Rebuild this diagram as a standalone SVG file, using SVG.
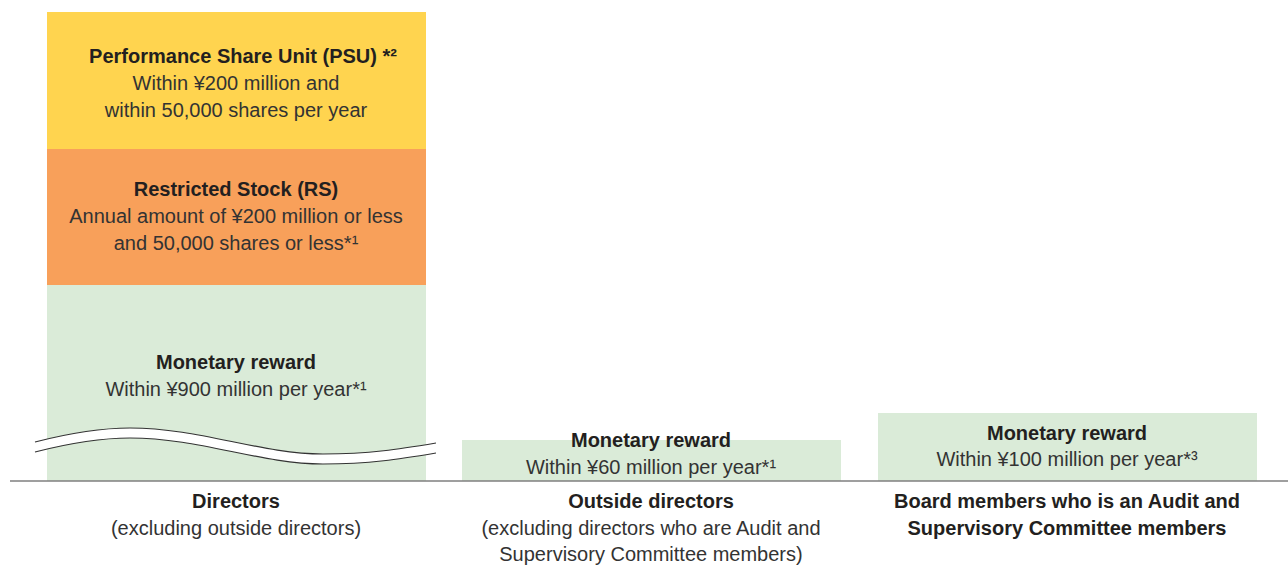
<svg xmlns="http://www.w3.org/2000/svg" width="1288" height="565" viewBox="0 0 1288 565">
<style>
text{font-family:"Liberation Sans",Arial,Helvetica,sans-serif;font-size:20px;fill:#333;text-anchor:middle}
.b{font-weight:bold;fill:#231f20}
.psu{fill:#ffd44f}
.rs{fill:#f8a05a}
.mon{fill:#daebd8}
.wave{fill:none;stroke:#333;stroke-width:1.2}
</style>
<g id="psu">
<rect class="psu" x="47" y="12" width="379" height="137"/>
<text class="b" x="243" y="63">Performance Share Unit (PSU) *²</text>
<text x="236" y="90">Within ¥200 million and</text>
<text x="236" y="117">within 50,000 shares per year</text>
</g>
<g id="rs">
<rect class="rs" x="47" y="149" width="379" height="136"/>
<text class="b" x="236" y="196">Restricted Stock (RS)</text>
<text x="236" y="223">Annual amount of ¥200 million or less</text>
<text x="236" y="250">and 50,000 shares or less*¹</text>
</g>
<g id="directors-monetary">
<rect class="mon" x="47" y="285" width="379" height="196"/>
<text class="b" x="236" y="369">Monetary reward</text>
<text x="236" y="396">Within ¥900 million per year*¹</text>
<path d="M35,442 C70,433 100,428 130,428 C200,428 260,454 323,454 C370,454 400,449 436,443 L436,453 C400,459 370,464 323,464 C260,464 200,438 130,438 C100,438 70,443 35,452 Z" fill="#fff"/>
<path class="wave" d="M35,442 C70,433 100,428 130,428 C200,428 260,454 323,454 C370,454 400,449 436,443"/>
<path class="wave" d="M35,452 C70,443 100,438 130,438 C200,438 260,464 323,464 C370,464 400,459 436,453"/>
</g>
<g id="outside-monetary">
<rect class="mon" x="462" y="440" width="379" height="41"/>
<text class="b" x="651" y="447">Monetary reward</text>
<text x="651" y="474">Within ¥60 million per year*¹</text>
</g>
<g id="audit-monetary">
<rect class="mon" x="878" y="413" width="379" height="68"/>
<text class="b" x="1067" y="440">Monetary reward</text>
<text x="1067" y="466">Within ¥100 million per year*³</text>
</g>
<g id="connectors">
<line x1="10" y1="481" x2="1288" y2="481" stroke="#7f7f7f" stroke-width="1.6"/>
</g>
<g id="label-directors">
<text class="b" x="236" y="508">Directors</text>
<text x="236" y="535">(excluding outside directors)</text>
</g>
<g id="label-outside">
<text class="b" x="651" y="508">Outside directors</text>
<text x="651" y="535">(excluding directors who are Audit and</text>
<text x="651" y="561">Supervisory Committee members)</text>
</g>
<g id="label-audit">
<text class="b" x="1067" y="508">Board members who is an Audit and</text>
<text class="b" x="1067" y="535">Supervisory Committee members</text>
</g>
</svg>
